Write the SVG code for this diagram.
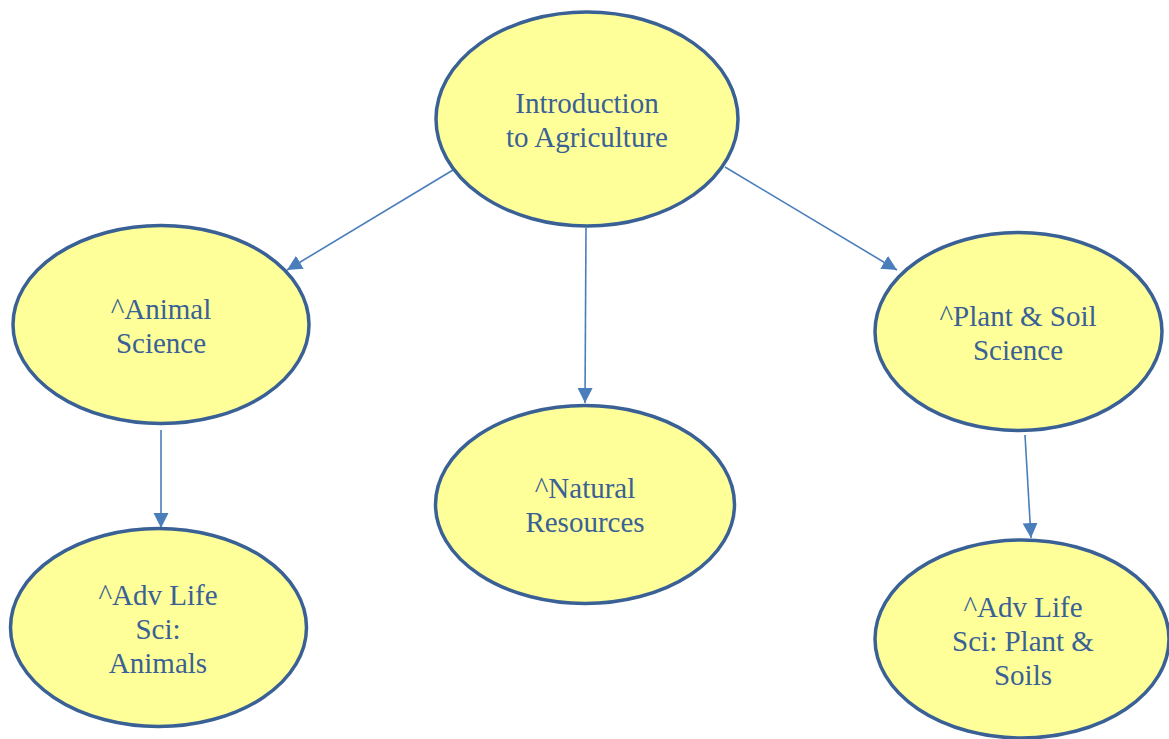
<svg xmlns="http://www.w3.org/2000/svg" width="1169" height="739" viewBox="0 0 1169 739">
<style>
.n{fill:#ffff99;stroke:#3a6196;stroke-width:3.5}
.t{font-family:"Liberation Serif","Times New Roman",serif;font-size:29px;fill:#3a6196;text-anchor:middle}
.c{stroke:#4a7ebb;stroke-width:1.6;fill:none;marker-end:url(#ah)}
</style>
<defs>
<marker id="ah" markerUnits="userSpaceOnUse" markerWidth="16" markerHeight="16" viewBox="0 0 16 16" refX="15" refY="8" orient="auto">
<path d="M0,0.5 L15,8 L0,15.5 Z" fill="#4a7ebb"/>
</marker>
</defs>
<rect width="1169" height="739" fill="#ffffff"/>
<g id="connectors">
<line class="c" x1="453" y1="170" x2="287" y2="270"/>
<line class="c" x1="586" y1="228" x2="585" y2="403"/>
<line class="c" x1="725" y1="167" x2="897" y2="270"/>
<line class="c" x1="161" y1="430" x2="161" y2="528"/>
<line class="c" x1="1025" y1="435" x2="1031" y2="538"/>
</g>
<g id="intro">
<ellipse class="n" cx="587" cy="119" rx="151" ry="107"/>
<text class="t" x="587" y="113">Introduction</text>
<text class="t" x="587" y="147">to Agriculture</text>
</g>
<g id="animal">
<ellipse class="n" cx="161" cy="324.5" rx="148" ry="99"/>
<text class="t" x="161" y="319">^Animal</text>
<text class="t" x="161" y="353">Science</text>
</g>
<g id="natural">
<ellipse class="n" cx="585" cy="504.5" rx="149.5" ry="99"/>
<text class="t" x="585" y="498">^Natural</text>
<text class="t" x="585" y="532">Resources</text>
</g>
<g id="plant">
<ellipse class="n" cx="1018.5" cy="331.5" rx="143.5" ry="99"/>
<text class="t" x="1018" y="326">^Plant &amp; Soil</text>
<text class="t" x="1018" y="360">Science</text>
</g>
<g id="advanimals">
<ellipse class="n" cx="158.5" cy="627.5" rx="148" ry="99"/>
<text class="t" x="158" y="605">^Adv Life</text>
<text class="t" x="158" y="639">Sci:</text>
<text class="t" x="158" y="673">Animals</text>
</g>
<g id="advplant">
<ellipse class="n" cx="1022" cy="639" rx="147" ry="99"/>
<text class="t" x="1023" y="617">^Adv Life</text>
<text class="t" x="1023" y="651">Sci: Plant &amp;</text>
<text class="t" x="1023" y="685">Soils</text>
</g>
</svg>
